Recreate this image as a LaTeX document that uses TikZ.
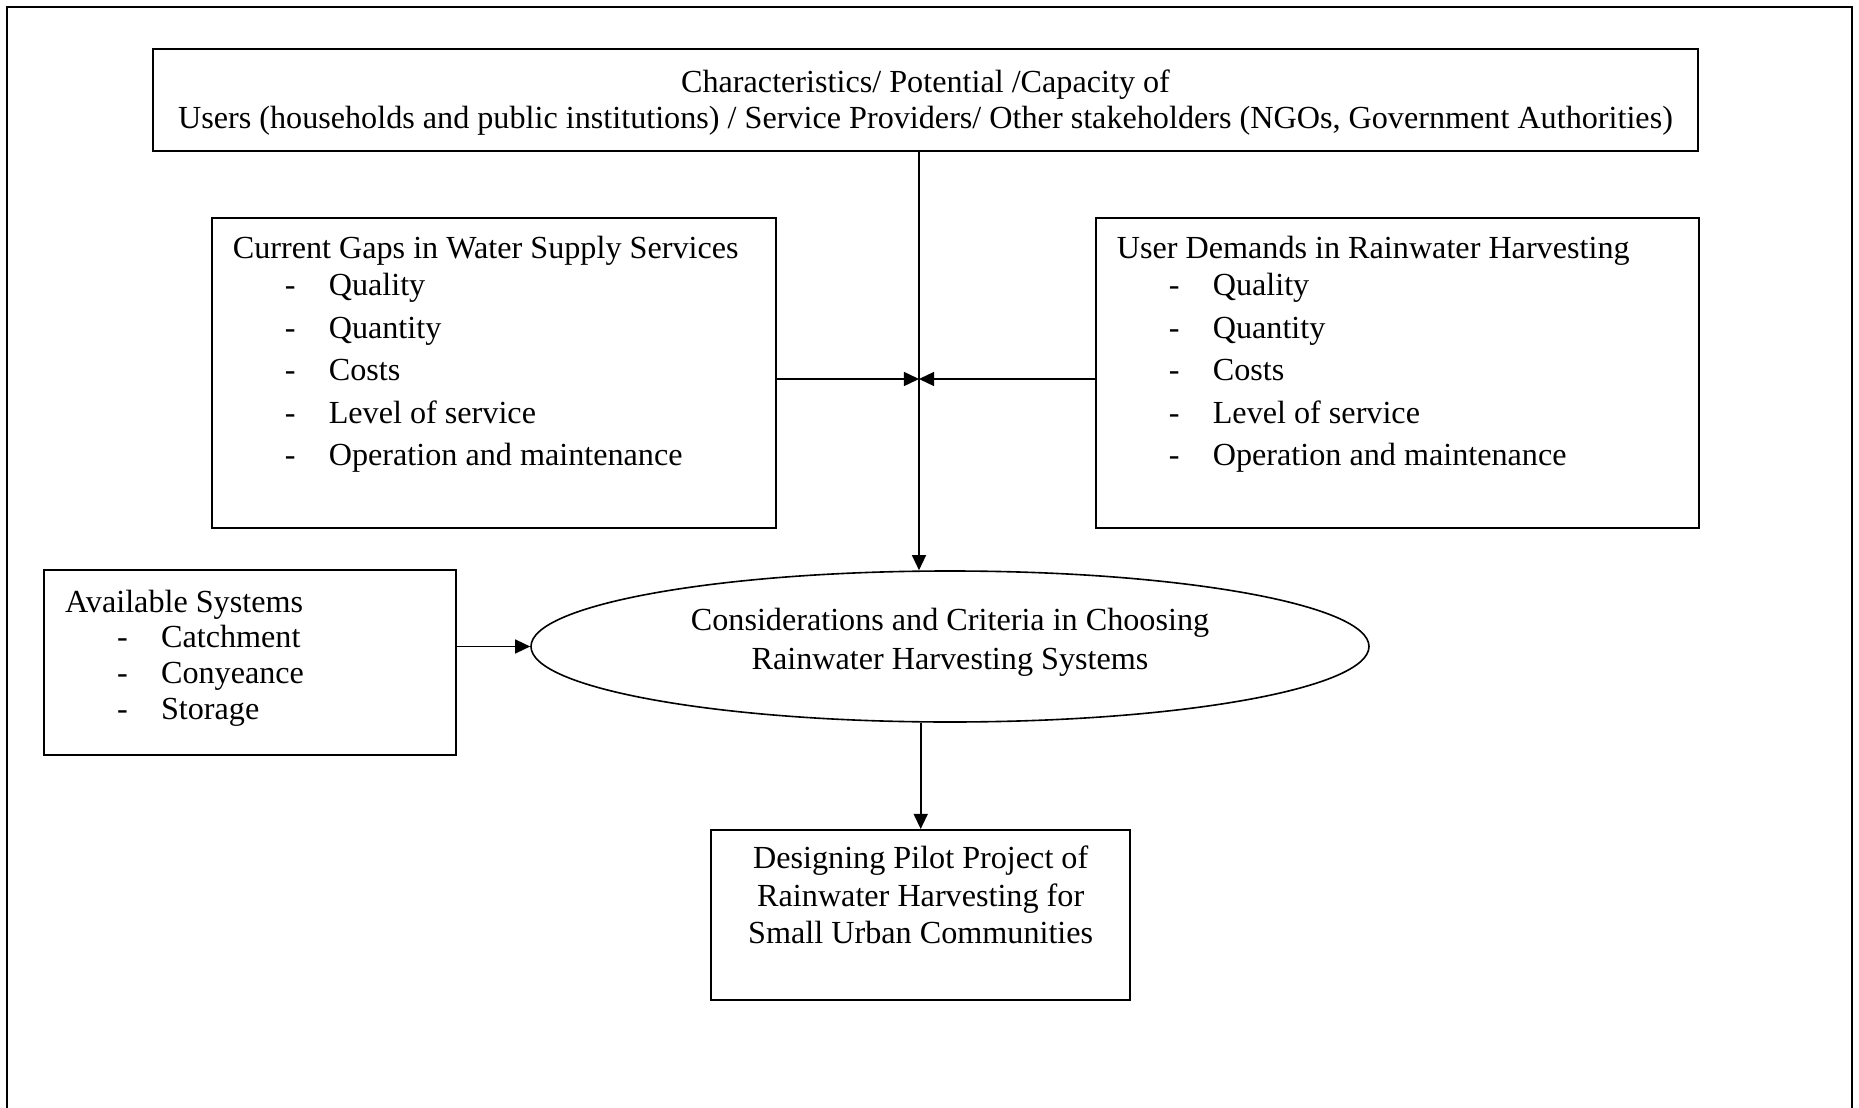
\documentclass[tikz,border=0pt]{standalone}
\usepackage{fontspec}
\setmainfont{Liberation Serif}
\usetikzlibrary{arrows.meta, positioning, shapes.geometric}

\newdimen\pxunit
\pxunit=0.373pt
\newcommand{\dashitem}[1]{\hspace*{27.2pt}\makebox[16.4pt][l]{-}#1}

\begin{document}
\begin{tikzpicture}[
    x=\pxunit, y=-\pxunit,
    frame/.style = {line width=1.1pt},
    topbox/.style = {draw, line width=0.9pt, minimum width=1545\pxunit, minimum height=102\pxunit, inner sep=0pt, align=center, font=\fontsize{12}{13.4}\selectfont},
    listbox/.style = {draw, line width=0.7pt, inner sep=0pt, anchor=north west, font=\fontsize{12}{13.6}\selectfont},
    crit/.style = {draw, ellipse, line width=0.6pt, minimum width=838\pxunit, minimum height=151\pxunit, inner sep=0pt, align=center, font=\fontsize{12}{14.4}\selectfont},
    arrow/.style = {line width=0.6pt, -{Triangle[length=5.6pt, width=5.2pt]}}
  ]

  \useasboundingbox (0,0) rectangle (1859,1108);

  % Outer frame, open at the bottom
  \draw[frame] (7,1108) -- (7,7) -- (1852,7) -- (1852,1108);

  % Stakeholder box on top
  \node[topbox] (top) at (925.5,100) {
    \rule{0pt}{10.5pt}Characteristics/ Potential /Capacity of\\
    Users (households and public institutions) / Service Providers/ Other stakeholders (NGOs, Government Authorities)
  };

  % Gaps box on the left
  \node[listbox] (gaps) at (211,217) {\parbox[c][310\pxunit][t]{564\pxunit}{%
    \hspace*{7.8pt}\rule{0pt}{15.3pt}Current Gaps in Water Supply Services\\
    \dashitem{Quality}\\[2.3pt]
    \dashitem{Quantity}\\[2.3pt]
    \dashitem{Costs}\\[2.3pt]
    \dashitem{Level of service}\\[2.3pt]
    \dashitem{Operation and maintenance}}};

  % Demands box on the right
  \node[listbox] (demands) at (1095,217) {\parbox[c][310\pxunit][t]{603\pxunit}{%
    \hspace*{7.8pt}\rule{0pt}{15.3pt}User Demands in Rainwater Harvesting\\
    \dashitem{Quality}\\[2.3pt]
    \dashitem{Quantity}\\[2.3pt]
    \dashitem{Costs}\\[2.3pt]
    \dashitem{Level of service}\\[2.3pt]
    \dashitem{Operation and maintenance}}};

  % Available systems box
  \node[listbox, line width=0.9pt, font=\fontsize{12}{13.3}\selectfont] (avail) at (43,569) {\parbox[c][185\pxunit][t]{412\pxunit}{%
    \hspace*{7.8pt}\rule{0pt}{15.6pt}Available Systems\\
    \dashitem{Catchment}\\
    \dashitem{Conyeance}\\
    \dashitem{Storage}}};

  % Criteria ellipse in the middle
  \node[crit] (crit) at (950,646.5) {
    Considerations and Criteria in Choosing\\
    Rainwater Harvesting Systems\rule[-5.6pt]{0pt}{5.6pt}
  };

  % Pilot project box at the bottom
  \node[listbox, line width=0.9pt, font=\fontsize{12}{14}\selectfont] (design) at (710,829) {\parbox[c][170\pxunit][t]{419\pxunit}{%
    \centering\rule{0pt}{14.4pt}Designing Pilot Project of\\
    Rainwater Harvesting for\\
    Small Urban Communities}};

  % Meeting point of the three upper inputs
  \coordinate (hub) at (919,379);

  % Arrow from top box down to the ellipse
  \draw[arrow] 
    (top.south -| hub) -- 
    (hub |- crit.north);

  % Arrows from gaps and demands into the vertical line
  \draw[arrow] 
    (gaps.east |- hub) -- 
    (hub);
  \draw[arrow] 
    (demands.west |- hub) -- 
    (hub);

  % Arrow from available systems to the ellipse
  \draw[arrow] 
    (avail.east |- crit.west) -- 
    (crit.west);

  % Arrow from ellipse to pilot project
  \draw[arrow] 
    (crit.south -| design.north) -- 
    (design.north);

\end{tikzpicture}
\end{document}
